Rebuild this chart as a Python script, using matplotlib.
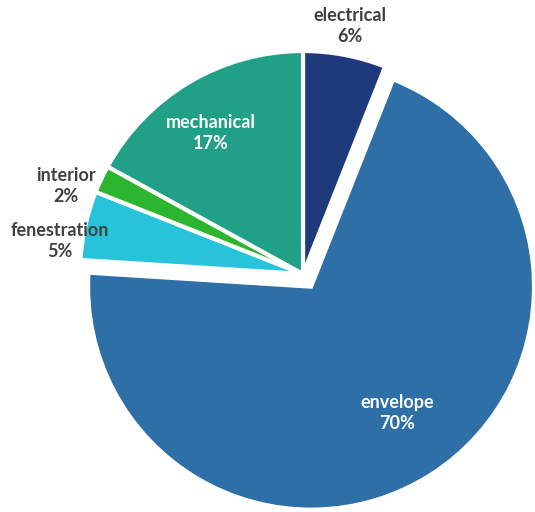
import matplotlib.pyplot as plt

categories = ["electrical", "envelope", "fenestration", "interior", "mechanical"]
shares = [6, 70, 5, 2, 17]
colors = ["#1f3a7c", "#2e6fa7", "#27c3da", "#2cb52e", "#20a086"]
# only the big slice is pulled out (offset in pixels)
explode = [0, 15, 0, 0, 0]

# label anchor positions (pixels, top-left origin) and text colours
label_pos = {
    "electrical": (350, 26),
    "envelope": (397, 413),
    "fenestration": (60, 241),
    "interior": (66, 186),
    "mechanical": (211, 133),
}
label_color = {
    "electrical": "#404040",
    "envelope": "white",
    "fenestration": "#404040",
    "interior": "#404040",
    "mechanical": "white",
}

W, H = 535, 512
fig = plt.figure(figsize=(W / 100, H / 100), dpi=100)
ax = fig.add_axes([0, 0, 1, 1])

ax.pie(shares, colors=colors, startangle=90, counterclock=False,
       center=(303, H - 274), radius=223, explode=explode,
       wedgeprops=dict(edgecolor="white", linewidth=3), frame=True)
ax.set_xlim(0, W)
ax.set_ylim(0, H)
ax.axis("off")

for name, val in zip(categories, shares):
    x, y = label_pos[name]
    ax.text(x, H - y, f"{name}\n{val}%", ha="center", va="center",
            fontsize=13, fontweight="bold", family="Lato",
            color=label_color[name], linespacing=1.25)

fig.savefig("out.png", dpi=100)
